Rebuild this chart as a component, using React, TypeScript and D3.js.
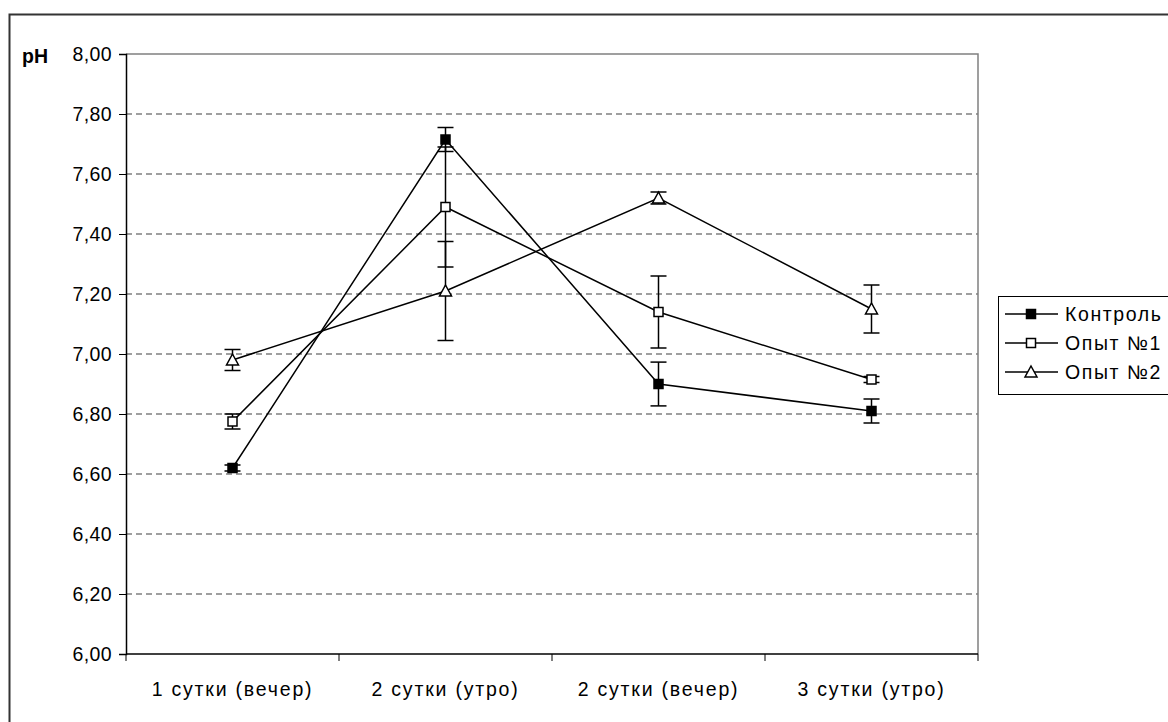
import { useEffect, useRef } from "react";
import * as d3 from "d3";

const CATEGORIES = ["1 сутки (вечер)", "2 сутки (утро)", "2 сутки (вечер)", "3 сутки (утро)"];
const Y_TICKS = [6.0, 6.2, 6.4, 6.6, 6.8, 7.0, 7.2, 7.4, 7.6, 7.8, 8.0];

const CONTROL = [6.62, 7.715, 6.90, 6.81];
const CONTROL_ERR = [0.01, 0.04, 0.073, 0.04];
const EXP1 = [6.775, 7.49, 7.14, 6.915];
const EXP1_ERR = [0.025, 0.2, 0.12, 0.01];
const EXP2 = [6.98, 7.21, 7.52, 7.15];
const EXP2_ERR = [0.035, 0.165, 0.02, 0.08];

const SERIES = [
  { name: "Контроль", values: CONTROL, err: CONTROL_ERR, marker: "filled" },
  { name: "Опыт №1", values: EXP1, err: EXP1_ERR, marker: "square" },
  { name: "Опыт №2", values: EXP2, err: EXP2_ERR, marker: "triangle" },
];

const FONT = "'Liberation Sans', Arial, sans-serif";
const FS = 19.5;

function drawMarker(g: d3.Selection<SVGGElement, unknown, null, undefined>, type: string, x: number, y: number) {
  if (type === "triangle") {
    g.append("path")
      .attr("d", `M${x},${y - 6}L${x + 6},${y + 5}L${x - 6},${y + 5}Z`)
      .attr("fill", "#fff").attr("stroke", "#000").attr("stroke-width", 1.5);
  } else {
    g.append("rect")
      .attr("x", x - 4.5).attr("y", y - 4.5).attr("width", 9).attr("height", 9)
      .attr("fill", type === "filled" ? "#000" : "#fff")
      .attr("stroke", "#000").attr("stroke-width", 1.5);
  }
}

export default function App() {
  const svgRef = useRef<SVGSVGElement>(null);

  useEffect(() => {
    const svg = d3.select(svgRef.current);
    svg.selectAll("*").remove();
    const W = 1168, H = 722;
    const mg = { l: 126, t: 54, r: 978, b: 654 };

    // outer frame
    svg.append("rect").attr("x", 9.5).attr("y", 14.5).attr("width", W + 10).attr("height", H + 10)
      .attr("fill", "#fff").attr("stroke", "#333").attr("stroke-width", 2);

    const x = d3.scaleBand().domain(CATEGORIES).range([mg.l, mg.r]);
    const y = d3.scaleLinear().domain([6, 8]).range([mg.b, mg.t]);
    const cx = (i: number) => (x(CATEGORIES[i]) as number) + x.bandwidth() / 2;

    const root = svg.append("g");

    // grid
    Y_TICKS.filter(v => v > 6 && v < 8).forEach(v => {
      root.append("line").attr("x1", mg.l).attr("x2", mg.r).attr("y1", y(v)).attr("y2", y(v))
        .attr("stroke", "#808080").attr("stroke-width", 1.5).attr("stroke-dasharray", "6,4");
    });
    // plot border top/right
    root.append("path").attr("d", `M${mg.l},${mg.t}H${mg.r}V${mg.b}`)
      .attr("fill", "none").attr("stroke", "#808080").attr("stroke-width", 1.5);

    // axes
    const yAxis = d3.axisLeft(y).tickValues(Y_TICKS).tickSize(7).tickFormat(v => d3.format(".2f")(+v).replace(".", ","));
    root.append("g").attr("transform", `translate(${mg.l},0)`).call(yAxis)
      .call(g => {
        g.attr("font-size", FS).attr("font-family", FONT);
        g.select(".domain").attr("stroke", "#000").attr("stroke-width", 1.5);
        g.selectAll(".tick line").attr("stroke", "#000").attr("stroke-width", 1);
        g.selectAll("text").attr("fill", "#000").attr("x", -14).attr("letter-spacing", 0.4);
      });
    root.append("line").attr("x1", mg.l).attr("x2", mg.r).attr("y1", mg.b).attr("y2", mg.b)
      .attr("stroke", "#000").attr("stroke-width", 1.5);
    const bounds = CATEGORIES.map(c => x(c) as number).concat([mg.r]);
    bounds.forEach(b => {
      root.append("line").attr("x1", b).attr("x2", b).attr("y1", mg.b).attr("y2", mg.b + 7)
        .attr("stroke", "#000").attr("stroke-width", 1);
    });
    CATEGORIES.forEach((c, i) => {
      root.append("text").attr("x", cx(i)).attr("y", 696).attr("text-anchor", "middle")
        .attr("font-family", FONT).attr("font-size", FS).attr("letter-spacing", 1.8).text(c);
    });

    root.append("text").attr("x", 22).attr("y", 63).attr("font-family", FONT)
      .attr("font-size", FS).attr("font-weight", "bold").text("pH");

    // series lines
    const line = d3.line<number>().x((_, i) => cx(i)).y(v => y(v));
    SERIES.forEach(s => {
      root.append("path").datum(s.values).attr("d", line).attr("fill", "none")
        .attr("stroke", "#000").attr("stroke-width", 1.5);
    });
    // error bars
    SERIES.forEach(s => {
      s.values.forEach((v, i) => {
        const px = cx(i), lo = y(v - s.err[i]), hi = y(v + s.err[i]);
        root.append("line").attr("x1", px).attr("x2", px).attr("y1", lo).attr("y2", hi)
          .attr("stroke", "#000").attr("stroke-width", 1.5);
        [lo, hi].forEach(yy => root.append("line").attr("x1", px - 8).attr("x2", px + 8)
          .attr("y1", yy).attr("y2", yy).attr("stroke", "#000").attr("stroke-width", 1.5));
      });
    });
    // markers
    SERIES.forEach(s => {
      s.values.forEach((v, i) => drawMarker(root, s.marker, cx(i), y(v)));
    });

    // legend
    const lg = svg.append("g");
    lg.append("rect").attr("x", 998.5).attr("y", 296.5).attr("width", 200).attr("height", 98)
      .attr("fill", "#fff").attr("stroke", "#000").attr("stroke-width", 1);
    SERIES.forEach((s, i) => {
      const ly = 314 + i * 29;
      lg.append("line").attr("x1", 1005).attr("x2", 1058).attr("y1", ly).attr("y2", ly)
        .attr("stroke", "#000").attr("stroke-width", 1.5);
      drawMarker(lg, s.marker, 1031, ly);
      lg.append("text").attr("x", 1065).attr("y", ly + 7).attr("font-family", FONT)
        .attr("font-size", FS).attr("letter-spacing", 1.6).text(s.name);
    });
  }, []);

  return (
    <div style={{ position: "absolute", left: 0, top: 0 }}>
      <svg ref={svgRef} width={1168} height={722} style={{ display: "block" }} />
    </div>
  );
}
